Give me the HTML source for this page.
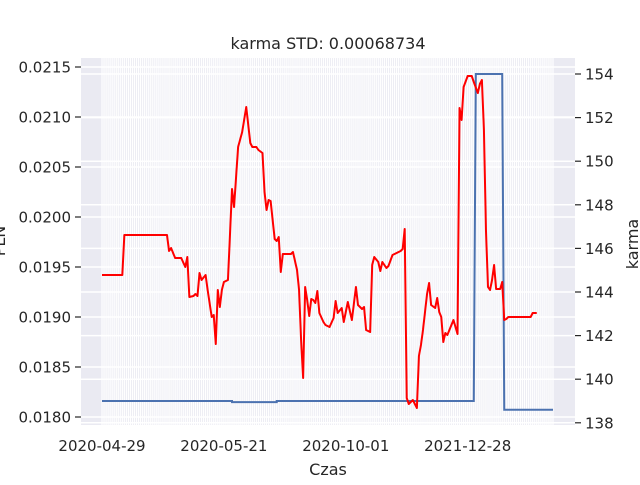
<!DOCTYPE html>
<html><head><meta charset="utf-8"><style>
body{margin:0;background:#fff}
svg text{font-family:"DejaVu Sans","Liberation Sans",sans-serif;fill:#262626}
</style></head><body>
<svg id="chart" width="640" height="480" xmlns="http://www.w3.org/2000/svg">
<rect x="0" y="0" width="640" height="480" fill="#fff"/>
<rect x="81" y="58" width="494" height="367" fill="#eaeaf2"/>
<g id="grid"></g>
<g id="series"></g>
<g id="axes"></g>
<text x="328" y="49" font-size="16" text-anchor="middle">karma STD: 0.00068734</text>
<text x="328" y="475" font-size="16" text-anchor="middle">Czas</text>
<text transform="translate(5,241) rotate(-90)" font-size="16" text-anchor="middle">PLN</text>
<text transform="translate(638,244) rotate(-90)" font-size="16" text-anchor="middle">karma</text>
</svg>
<script>
const N = 223;
const xTickIdx = [0, 60, 120, 180];
const xTickLabels = ["2020-04-29", "2020-05-21", "2020-10-01", "2021-12-28"];
const leftTicks = [0.0180, 0.0185, 0.0190, 0.0195, 0.0200, 0.0205, 0.0210, 0.0215];
const rightTicks = [138, 140, 142, 144, 146, 148, 150, 152, 154];
const priceIdx = [0,10,11,32,33,34,36,39,41,42,43,45,46,47,48,49,51,52,54,55,56,57,58,59,60,62,64,65,67,69,71,73,74,76,77,79,80,81,82,83,85,86,87,88,89,93,94,96,97,98,99,100,101,102,103,104,105,106,107,109,110,112,114,115,116,118,119,121,122,123,125,126,128,129,130,132,133,134,136,137,138,140,141,143,147,148,149,150,151,153,155,156,157,158,160,161,162,164,165,166,167,168,169,170,171,173,174,175,176,177,178,180,182,183,185,186,187,188,189,190,191,192,193,194,196,197,198,199,200,211,212,214];
const priceVal = [.01942,.01942,.01982,.01982,.01966,.01969,.01959,.01959,.0195,.0196,.0192,.01921,.01923,.01921,.01944,.01937,.01942,.01927,.019,.01902,.01873,.01927,.0191,.01927,.01935,.01937,.02028,.0201,.0207,.02085,.0211,.02074,.0207,.0207,.02067,.02064,.02025,.02007,.02017,.02016,.01978,.01976,.0198,.01945,.01963,.01963,.01965,.01947,.01927,.01877,.01839,.0193,.01917,.01901,.01918,.01917,.01914,.01926,.01904,.01895,.01892,.0189,.01899,.01916,.01904,.01909,.01895,.01915,.01906,.01897,.0193,.01912,.01908,.0191,.01887,.01885,.01952,.0196,.01955,.01946,.01955,.01949,.01951,.01962,.01966,.01968,.01988,.01819,.01813,.01817,.01809,.01861,.01872,.01887,.01923,.01934,.01912,.01909,.01919,.01905,.019,.01875,.01884,.01882,.01887,.01897,.0189,.01883,.02109,.02097,.0213,.02141,.02141,.02135,.02124,.02133,.02137,.02087,.01987,.0193,.01927,.01937,.01952,.01928,.01928,.01935,.01897,.01898,.019,.019,.01904,.01904];
const karmaIdx = [0,64,64,86,86,183,184,197,198,222];
const karmaVal = [139,139,138.95,138.95,139,139,154,154,138.6,138.6];

const NS = "http://www.w3.org/2000/svg";
const X0 = 102, X1 = 553;
const xs = i => X0 + i * (X1 - X0) / (N - 1);
const yL = v => 417 - (v - 0.018) * 100000;
const yR = v => 74 + (154 - v) * 21.8;
function mk(tag, attrs, parent){const e=document.createElementNS(NS,tag);for(const k in attrs)e.setAttribute(k,attrs[k]);parent.appendChild(e);return e;}
const grid=document.getElementById('grid'), series=document.getElementById('series'), axes=document.getElementById('axes');
for(let i=0;i<N;i++){
  const l=mk('line',{x1:xs(i),x2:xs(i),y1:58,y2:425,stroke:'#fff','stroke-width':1.2},grid);
  
  
}
leftTicks.forEach(v=>{
  const y=yL(v);
  const g=mk('line',{x1:81,x2:575,y1:y,y2:y,stroke:'#fff','stroke-width':1.5},grid);
  
  
  mk('line',{x1:75,x2:81,y1:y,y2:y,stroke:'#262626','stroke-width':1.2},axes);
  const t=mk('text',{x:71,y:y+5.5,'font-size':15,'text-anchor':'end'},axes);
  t.textContent=v.toFixed(4);
  
  
});
rightTicks.forEach(v=>{
  const y=yR(v);
  const g=mk('line',{x1:81,x2:575,y1:y,y2:y,stroke:'#fff','stroke-width':1.5},grid);
  
  
  mk('line',{x1:575,x2:581,y1:y,y2:y,stroke:'#262626','stroke-width':1.2},axes);
  const t=mk('text',{x:585,y:y+5.5,'font-size':15,'text-anchor':'start'},axes);
  t.textContent=String(v);
  
  
});
xTickIdx.forEach((i,k)=>{
  const x=xs(i);
  const t=mk('text',{x:x,y:451,'font-size':15,'text-anchor':'middle'},axes);
  t.textContent=xTickLabels[k];
  
  
});
const kp=mk('polyline',{points:karmaIdx.map((i,k)=>xs(i)+','+yR(karmaVal[k])).join(' '),fill:'none',stroke:'#4c72b0','stroke-width':2},series);


const pp=mk('polyline',{points:priceIdx.map((i,k)=>xs(i)+','+yL(priceVal[k])).join(' '),fill:'none',stroke:'#ff0000','stroke-width':2,'stroke-linejoin':'round'},series);


</script>
</body></html>
